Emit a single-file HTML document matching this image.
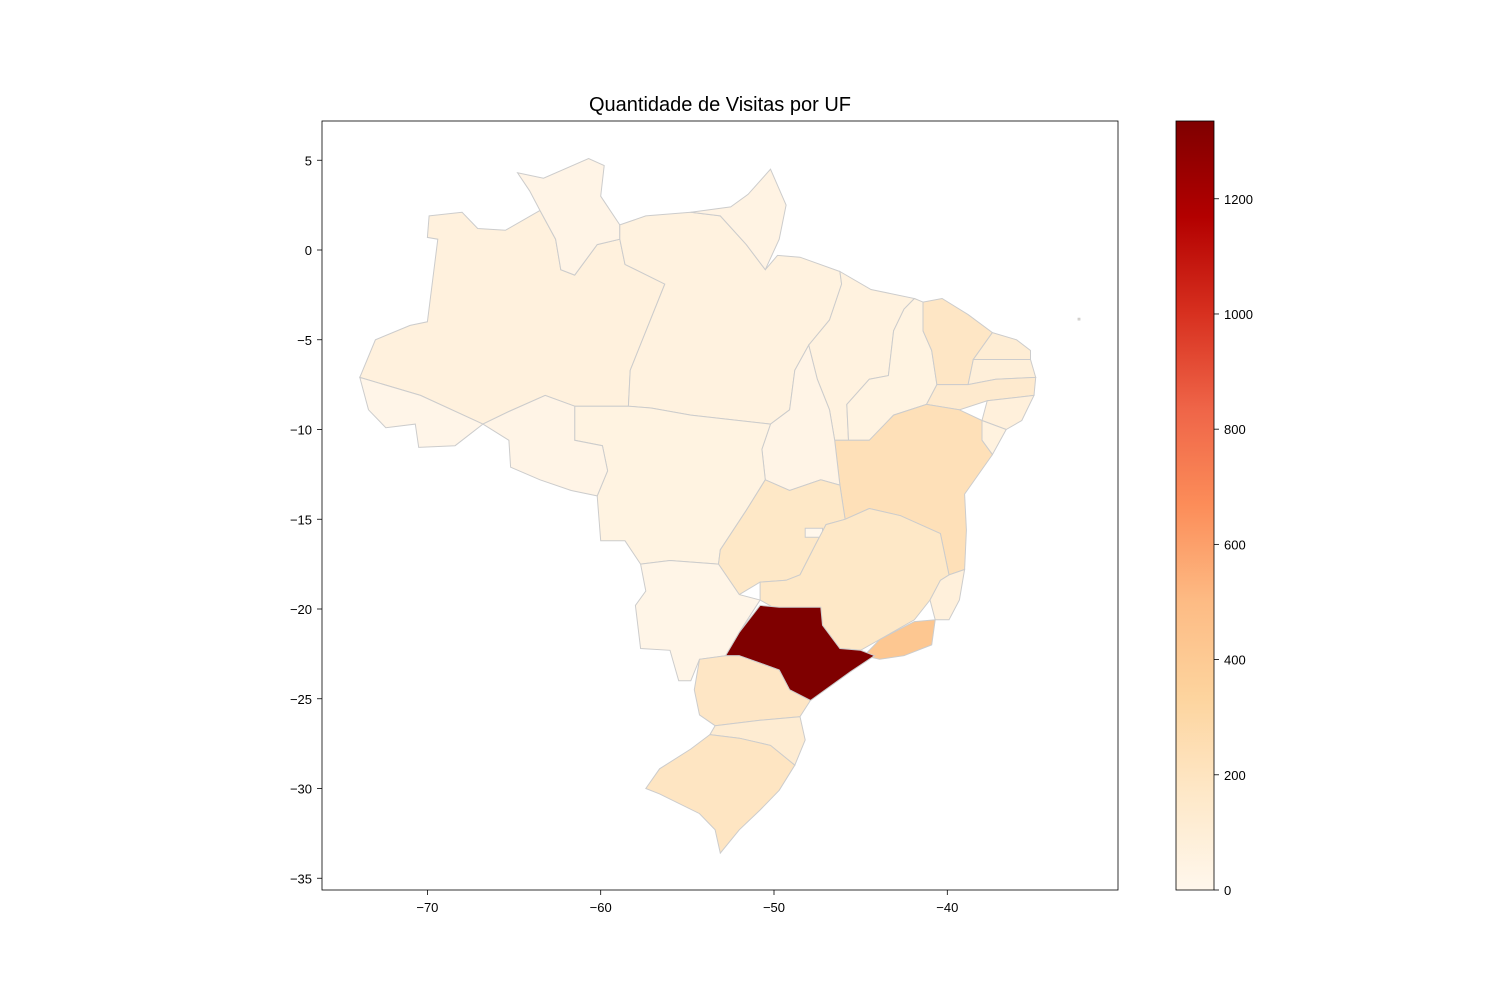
<!DOCTYPE html>
<html><head><meta charset="utf-8"><style>
body{margin:0;background:#fff;}
svg text{font-family:"Liberation Sans","DejaVu Sans",sans-serif;}
</style></head><body>
<svg id="chart" width="1500" height="1000" viewBox="0 0 1500 1000">
<defs><linearGradient id="cbgrad" x1="0" y1="1" x2="0" y2="0">
<stop offset="0" stop-color="#fff7ec"/><stop offset="0.125" stop-color="#fee8c8"/><stop offset="0.25" stop-color="#fdd49e"/><stop offset="0.375" stop-color="#fdbb84"/><stop offset="0.5" stop-color="#fc8d59"/><stop offset="0.625" stop-color="#ef6548"/><stop offset="0.75" stop-color="#d7301f"/><stop offset="0.875" stop-color="#b30000"/><stop offset="1" stop-color="#7f0000"/></linearGradient></defs>
<text x="720" y="111" font-size="20" text-anchor="middle">Quantidade de Visitas por UF</text>
<g id="states"></g>
<rect x="322" y="121" width="796" height="769" fill="none" stroke="#000" stroke-width="0.8"/>
<g id="axes"></g>
<rect x="1176" y="121" width="38" height="769" fill="url(#cbgrad)" stroke="#000" stroke-width="0.8"/>
<g id="cbticks"></g>
</svg>
<script>
const states = ["AM","AC","RR","PA","AP","MA","PI","CE","RN","PB","PE","AL","SE","BA","TO","MT","RO","GO","DF","MG","ES","RJ","SP","MS","PR","SC","RS","FN"];
const visits = [70,20,30,60,40,60,50,180,110,90,140,80,60,230,30,50,30,170,0,170,80,420,1335,25,180,120,190,140];
const xTicks = [-70,-60,-50,-40];
const yTicks = [5,0,-5,-10,-15,-20,-25,-30,-35];
const cbTicks = [0,200,400,600,800,1000,1200];
const vmax = 1335;
const shapes = {
AM:[[-69.9,1.9],[-68.0,2.1],[-67.1,1.2],[-65.5,1.1],[-63.5,2.2],[-62.6,0.6],[-62.3,-1.1],[-61.5,-1.4],[-60.2,0.3],[-58.9,0.6],[-58.6,-0.8],[-56.3,-1.9],[-58.3,-6.7],[-58.4,-8.7],[-61.5,-8.7],[-63.2,-8.1],[-65.3,-9.0],[-66.8,-9.7],[-70.4,-8.1],[-73.9,-7.1],[-73.0,-5.0],[-71.0,-4.2],[-70.0,-4.0],[-69.4,0.6],[-70.0,0.7]],
AC:[[-73.9,-7.1],[-70.4,-8.1],[-66.8,-9.7],[-68.4,-10.9],[-70.5,-11.0],[-70.7,-9.7],[-72.4,-9.9],[-73.4,-8.9]],
RR:[[-64.8,4.3],[-63.3,4.0],[-60.7,5.1],[-59.8,4.7],[-60.0,3.0],[-58.9,1.4],[-58.9,0.6],[-60.2,0.3],[-61.5,-1.4],[-62.3,-1.1],[-62.6,0.6],[-63.5,2.2],[-64.1,3.3]],
PA:[[-58.9,1.4],[-57.4,1.9],[-54.8,2.1],[-53.1,1.9],[-51.6,0.3],[-50.5,-1.1],[-49.8,-0.3],[-48.5,-0.4],[-46.2,-1.2],[-46.1,-1.9],[-46.8,-3.9],[-48.0,-5.3],[-48.8,-6.7],[-49.1,-8.9],[-50.2,-9.7],[-54.8,-9.2],[-57.1,-8.8],[-58.4,-8.7],[-58.3,-6.7],[-56.3,-1.9],[-58.6,-0.8],[-58.9,0.6]],
AP:[[-54.8,2.1],[-52.5,2.4],[-51.5,3.1],[-50.2,4.5],[-49.3,2.5],[-49.7,0.6],[-50.5,-1.1],[-51.6,0.3],[-53.1,1.9]],
MA:[[-46.2,-1.2],[-44.4,-2.2],[-41.9,-2.7],[-42.5,-3.3],[-43.1,-4.5],[-43.4,-7.0],[-44.5,-7.2],[-45.8,-8.6],[-45.7,-10.6],[-46.5,-10.6],[-46.8,-8.9],[-47.5,-7.2],[-48.0,-5.3],[-46.8,-3.9],[-46.1,-1.9]],
PI:[[-41.9,-2.7],[-41.4,-2.9],[-41.4,-4.5],[-40.9,-5.6],[-40.6,-7.5],[-41.2,-8.6],[-43.1,-9.2],[-44.5,-10.6],[-45.7,-10.6],[-45.8,-8.6],[-44.5,-7.2],[-43.4,-7.0],[-43.1,-4.5],[-42.5,-3.3]],
CE:[[-41.4,-2.9],[-40.3,-2.7],[-38.8,-3.6],[-37.4,-4.6],[-38.5,-6.1],[-38.8,-7.5],[-40.6,-7.5],[-40.9,-5.6],[-41.4,-4.5]],
RN:[[-37.4,-4.6],[-36.0,-5.0],[-35.2,-5.6],[-35.2,-6.1],[-37.2,-6.1],[-38.5,-6.1]],
PB:[[-38.5,-6.1],[-37.2,-6.1],[-35.2,-6.1],[-34.9,-7.1],[-37.2,-7.2],[-38.8,-7.5]],
PE:[[-40.6,-7.5],[-38.8,-7.5],[-37.2,-7.2],[-34.9,-7.1],[-35.0,-8.1],[-37.7,-8.4],[-39.3,-8.9],[-41.2,-8.6]],
AL:[[-37.7,-8.4],[-35.0,-8.1],[-35.7,-9.5],[-36.6,-10.0],[-38.0,-9.5]],
SE:[[-38.0,-9.5],[-36.6,-10.0],[-37.4,-11.4],[-38.0,-10.6]],
BA:[[-41.2,-8.6],[-39.3,-8.9],[-38.0,-9.5],[-38.0,-10.6],[-37.4,-11.4],[-38.2,-12.5],[-39.0,-13.6],[-38.9,-15.6],[-39.0,-17.8],[-39.9,-18.1],[-40.4,-15.8],[-42.7,-14.8],[-44.5,-14.4],[-45.9,-15.0],[-46.2,-13.1],[-46.5,-10.6],[-45.7,-10.6],[-44.5,-10.6],[-43.1,-9.2]],
TO:[[-48.0,-5.3],[-47.5,-7.2],[-46.8,-8.9],[-46.5,-10.6],[-46.2,-13.1],[-47.3,-12.8],[-49.1,-13.4],[-50.5,-12.8],[-50.7,-11.1],[-50.2,-9.7],[-49.1,-8.9],[-48.8,-6.7]],
MT:[[-61.5,-8.7],[-58.4,-8.7],[-57.1,-8.8],[-54.8,-9.2],[-50.2,-9.7],[-50.7,-11.1],[-50.5,-12.8],[-51.6,-14.5],[-53.1,-16.7],[-53.2,-17.5],[-56.0,-17.3],[-57.7,-17.5],[-58.6,-16.2],[-60.0,-16.2],[-60.2,-13.7],[-59.6,-12.3],[-59.9,-10.9],[-61.5,-10.6]],
RO:[[-65.3,-9.0],[-63.2,-8.1],[-61.5,-8.7],[-61.5,-10.6],[-59.9,-10.9],[-59.6,-12.3],[-60.2,-13.7],[-61.7,-13.4],[-63.5,-12.8],[-65.2,-12.1],[-65.3,-10.6],[-66.8,-9.7]],
GO:[[-50.5,-12.8],[-49.1,-13.4],[-47.3,-12.8],[-46.2,-13.1],[-45.9,-15.0],[-47.0,-15.3],[-47.6,-16.4],[-48.5,-18.1],[-49.3,-18.4],[-50.8,-18.5],[-52.0,-19.2],[-53.2,-17.5],[-53.1,-16.7],[-51.6,-14.5]],
DF:[[-48.2,-15.5],[-47.2,-15.5],[-47.2,-16.0],[-48.2,-16.0]],
MG:[[-45.9,-15.0],[-44.5,-14.4],[-42.7,-14.8],[-40.4,-15.8],[-39.9,-18.1],[-40.4,-18.4],[-41.0,-19.5],[-41.9,-20.6],[-43.9,-21.7],[-45.0,-22.3],[-46.2,-22.2],[-47.3,-20.9],[-47.3,-20.1],[-49.7,-20.1],[-50.8,-19.5],[-50.8,-18.5],[-49.3,-18.4],[-48.5,-18.1],[-47.6,-16.4],[-47.0,-15.3]],
ES:[[-39.9,-18.1],[-39.0,-17.8],[-39.3,-19.5],[-39.9,-20.6],[-40.7,-20.6],[-41.0,-19.5],[-40.4,-18.4]],
RJ:[[-41.9,-20.7],[-40.7,-20.6],[-40.9,-22.0],[-42.5,-22.6],[-43.9,-22.8],[-44.8,-22.6],[-43.9,-21.7]],
SP:[[-52.8,-22.6],[-52.0,-21.3],[-50.8,-19.8],[-49.7,-19.9],[-47.3,-19.9],[-47.2,-20.9],[-46.2,-22.2],[-45.0,-22.3],[-44.2,-22.6],[-45.6,-23.5],[-47.9,-25.1],[-49.1,-24.5],[-49.7,-23.4],[-52.0,-22.6]],
MS:[[-57.7,-17.5],[-56.0,-17.3],[-53.2,-17.5],[-52.0,-19.2],[-50.8,-19.5],[-52.0,-21.3],[-52.8,-22.6],[-54.3,-22.8],[-54.8,-24.0],[-55.5,-24.0],[-56.0,-22.3],[-57.7,-22.2],[-58.0,-19.8],[-57.4,-19.0]],
PR:[[-52.8,-22.6],[-52.0,-22.6],[-49.7,-23.4],[-49.1,-24.5],[-47.9,-25.1],[-48.5,-26.0],[-50.8,-26.2],[-53.4,-26.5],[-54.3,-25.9],[-54.6,-24.5],[-54.3,-22.8]],
SC:[[-53.4,-26.5],[-50.8,-26.2],[-48.5,-26.0],[-48.2,-27.3],[-48.8,-28.7],[-50.2,-27.6],[-52.0,-27.2],[-53.7,-27.0]],
RS:[[-53.7,-27.0],[-52.0,-27.2],[-50.2,-27.6],[-48.8,-28.7],[-49.7,-30.1],[-50.8,-31.2],[-52.0,-32.3],[-53.1,-33.6],[-53.4,-32.3],[-54.3,-31.4],[-56.6,-30.3],[-57.4,-30.0],[-56.6,-28.9],[-54.8,-27.8]],
FN:[[-32.45,-3.8],[-32.35,-3.8],[-32.35,-3.9],[-32.45,-3.9]]
};
const NS="http://www.w3.org/2000/svg";
function xs(lon){return 774+(lon+50)*17.33;}
function ys(lat){return 250-lat*17.95;}
const stops=[[255,247,236],[254,232,200],[253,212,158],[253,187,132],[252,141,89],[239,101,72],[215,48,31],[179,0,0],[127,0,0]];
function cmap(v){let t=Math.max(0,Math.min(1,v/vmax))*8;let i=Math.min(7,Math.floor(t));let f=t-i;
const c=stops[i].map((a,k)=>Math.round(a+(stops[i+1][k]-a)*f));return `rgb(${c[0]},${c[1]},${c[2]})`;}
const g=document.getElementById('states');
states.forEach((s,i)=>{const p=document.createElementNS(NS,'polygon');
p.setAttribute('points',shapes[s].map(q=>xs(q[0]).toFixed(1)+','+ys(q[1]).toFixed(1)).join(' '));
p.setAttribute('fill',cmap(visits[i]));p.setAttribute('stroke','#cccccc');p.setAttribute('stroke-width','1');


g.appendChild(p);});
const ax=document.getElementById('axes');
function line(x1,y1,x2,y2,par){const l=document.createElementNS(NS,'line');l.setAttribute('x1',x1);l.setAttribute('y1',y1);l.setAttribute('x2',x2);l.setAttribute('y2',y2);l.setAttribute('stroke','#000');l.setAttribute('stroke-width','0.8');par.appendChild(l);return l;}
function txt(x,y,s,anchor,par){const t=document.createElementNS(NS,'text');t.setAttribute('x',x);t.setAttribute('y',y);t.setAttribute('font-size','13');t.setAttribute('text-anchor',anchor);t.textContent=s;par.appendChild(t);return t;}
xTicks.forEach(v=>{const x=xs(v);const l=line(x,890,x,895,ax);


const t=txt(x,912,String(v).replace('-','\u2212'),'middle',ax);

});
yTicks.forEach(v=>{const y=ys(v);const l=line(317,y,322,y,ax);


const t=txt(312,y+5,String(v).replace('-','\u2212'),'end',ax);

});
const cb=document.getElementById('cbticks');
cbTicks.forEach(v=>{const y=890-v*769/vmax;const l=line(1214,y,1219,y,cb);


const t=txt(1224,y+5,String(v),'start',cb);

});
</script>
</body></html>
